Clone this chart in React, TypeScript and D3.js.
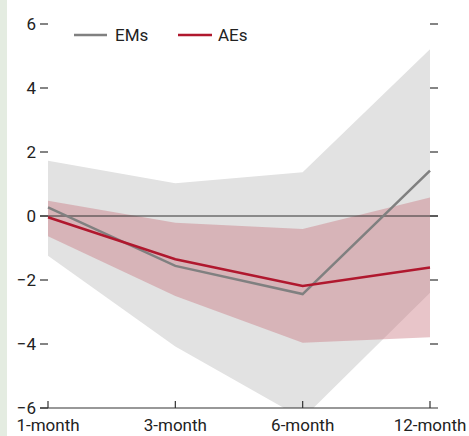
import React from "react";
import * as d3 from "d3";

const categories = ["1-month", "3-month", "6-month", "12-month"];
const emMedian = [0.27, -1.56, -2.44, 1.42];
const emUpper = [1.73, 1.02, 1.37, 5.21];
const emLower = [-1.24, -4.08, -6.33, -2.4];
const aeMedian = [-0.04, -1.35, -2.19, -1.61];
const aeUpper = [0.48, -0.21, -0.41, 0.58];
const aeLower = [-0.63, -2.5, -3.96, -3.79];
const yTicks = [6, 4, 2, 0, -2, -4, -6];

const W = 469;
const H = 436;
const FONT = "Roboto, 'Liberation Sans', sans-serif";

export default function App() {
  const x = d3.scalePoint<string>().domain(categories).range([48, 430]);
  const y = d3.scaleLinear().domain([-6, 6]).range([408, 24]);

  const area = (lo: number[], hi: number[]) =>
    d3
      .area<number>()
      .x((_, i) => x(categories[i]) as number)
      .y0((_, i) => y(lo[i]))
      .y1((_, i) => y(hi[i]))(lo.map((_, i) => i)) as string;

  const line = (v: number[]) =>
    d3
      .line<number>()
      .x((_, i) => x(categories[i]) as number)
      .y((d) => y(d))(v) as string;

  const fmt = (t: number) => (t < 0 ? "\u2212" + Math.abs(t) : String(t));

  return (
    <svg
      width={W}
      height={H}
      style={{ position: "absolute", left: 0, top: 0, background: "#fff" }}
      fontFamily={FONT}
    >
      <defs>
        <clipPath id="plot">
          <rect x={40} y={0} width={400} height={408} />
        </clipPath>
      </defs>
      <rect x={0} y={0} width={7} height={H} fill="#e4ece1" />
      <g clipPath="url(#plot)">
        <path d={area(emLower, emUpper)} fill="#e2e2e2" />
        <path d={area(aeLower, aeUpper)} fill="rgb(200,113,125)" fillOpacity={0.41} />
      </g>
      <line x1={40} x2={438} y1={y(0)} y2={y(0)} stroke="#333" strokeWidth={1} />
      <line x1={40} x2={438} y1={y(-6)} y2={y(-6)} stroke="#333" strokeWidth={1.2} />
      {yTicks.map((t) => (
        <g key={t}>
          <line x1={40} x2={48} y1={y(t)} y2={y(t)} stroke="#333" strokeWidth={1.2} />
          {t !== -6 && (
            <line x1={430} x2={438} y1={y(t)} y2={y(t)} stroke="#333" strokeWidth={1.2} />
          )}
          <text x={36} y={y(t)} dy="0.36em" textAnchor="end" fontSize={17} fill="#222">
            {fmt(t)}
          </text>
        </g>
      ))}
      {categories.map((c) => (
        <g key={c}>
          <line x1={x(c)} x2={x(c)} y1={401} y2={408} stroke="#333" strokeWidth={1.2} />
          <text x={x(c)} y={431} textAnchor="middle" fontSize={17} fill="#222">
            {c}
          </text>
        </g>
      ))}
      <g clipPath="url(#plot)">
        <path d={line(emMedian)} fill="none" stroke="#808080" strokeWidth={2.5} />
        <path d={line(aeMedian)} fill="none" stroke="#b0182e" strokeWidth={2.5} />
      </g>
      <line x1={74} x2={107} y1={35} y2={35} stroke="#808080" strokeWidth={2.5} />
      <text x={115} y={35} dy="0.36em" fontSize={17} fill="#222">EMs</text>
      <line x1={178} x2={212} y1={35} y2={35} stroke="#b0182e" strokeWidth={2.5} />
      <text x={218} y={35} dy="0.36em" fontSize={17} fill="#222">AEs</text>
    </svg>
  );
}
